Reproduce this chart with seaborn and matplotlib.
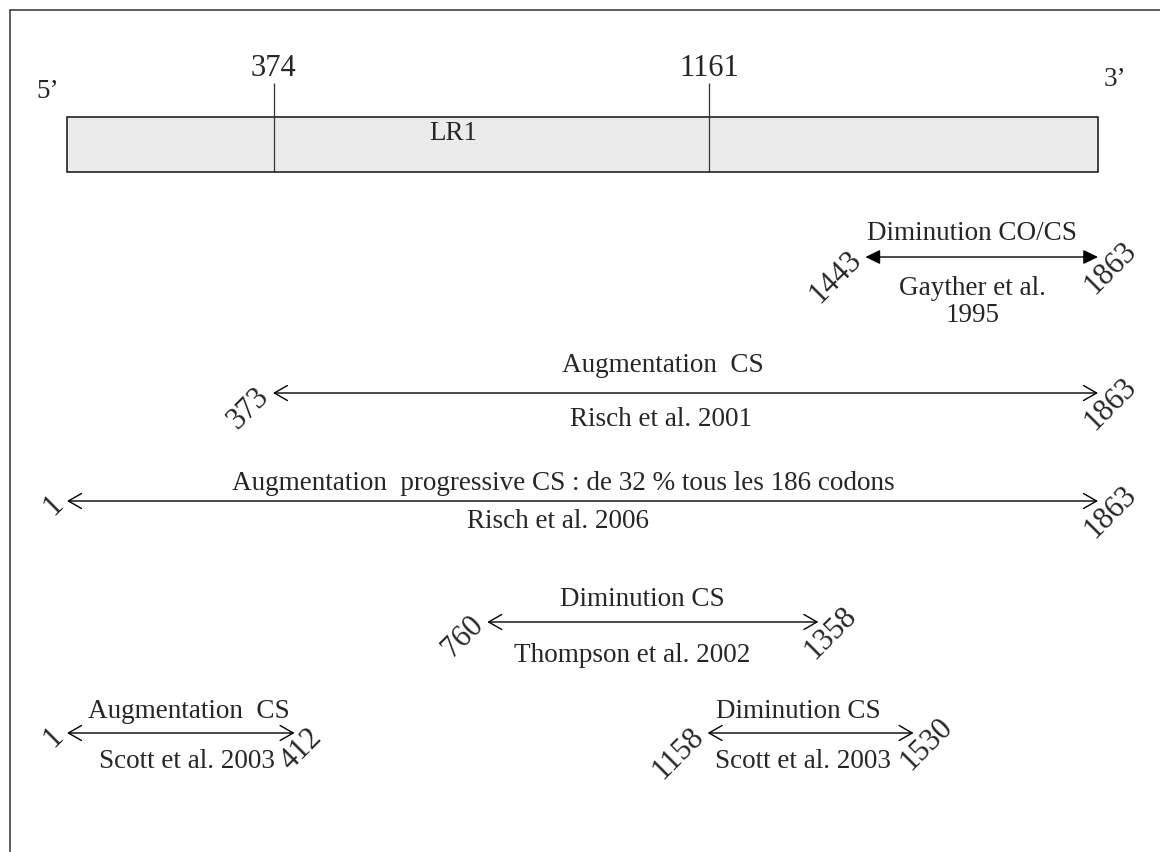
import matplotlib
matplotlib.use("Agg")
import matplotlib.pyplot as plt
import seaborn as sns
from matplotlib.lines import Line2D
from matplotlib.patches import Rectangle

# ---------------- data ----------------
gene_start, gene_end = 1, 1863
domain_label = "LR1"
marker_codons = [374, 1161]
end_labels = ["5’", "3’"]

effects = [
    "Diminution CO/CS",
    "Augmentation  CS",
    "Augmentation  progressive CS : de 32 % tous les 186 codons",
    "Diminution CS",
    "Augmentation  CS",
    "Diminution CS",
]
studies = [
    "Gayther et al.\n1995",
    "Risch et al. 2001",
    "Risch et al. 2006",
    "Thompson et al. 2002",
    "Scott et al. 2003",
    "Scott et al. 2003",
]
starts = [1443, 373, 1, 760, 1, 1158]
ends = [1863, 1863, 1863, 1358, 412, 1530]
filled_heads = [True, False, False, False, False, False]

# ---------------- layout (pixels, top-down) ----------------
W, H = 1160, 852
row_y = [257, 393, 501, 622, 733, 733]
title_y = [233, 366, 484, 600, 712, 712]
caption_y = [302, 419, 522, 655, 762, 762]
title_dx = [-10, -23, -19, -10, 8, -12]
caption_dx = [-9, -24, -24, -21, 6, -8]
FS = 19.5
NFS = 22

sns.set_theme(style="white")
plt.rcParams["font.family"] = ["Liberation Serif", "DejaVu Serif"]

fig = plt.figure(figsize=(11.6, 8.52), dpi=100)
ax = fig.add_axes([0, 0, 1, 1])
ax.set_xlim(-120.0, 1975.0)
ax.set_ylim(H, 0)
ax.axis("off")

# frame (top and left edges)
fig.add_artist(Line2D([10 / W, 10 / W], [0, 1 - 10 / H], color="#333333", lw=1.1))
fig.add_artist(Line2D([10 / W, 1], [1 - 10 / H, 1 - 10 / H], color="#333333", lw=1.1))

# gene bar
ax.add_patch(Rectangle((gene_start, 117), gene_end - gene_start, 55,
                       facecolor="#ebebeb", edgecolor="#111111", lw=1.1, zorder=2))
ax.vlines(marker_codons, 83, 172, color="#333333", lw=0.9, zorder=3)
for c in marker_codons:
    ax.text(c, 68, str(c), fontsize=NFS, ha="center", va="center")
ax.annotate(end_labels[0], xy=(gene_start, 92), xytext=(-19, 0), textcoords="offset pixels",
            fontsize=FS, ha="center", va="center")
ax.annotate(end_labels[1], xy=(gene_end, 80), xytext=(17, 0), textcoords="offset pixels",
            fontsize=FS, ha="center", va="center")
ax.annotate(domain_label, xy=((marker_codons[0] + marker_codons[1]) / 2, 133), xytext=(-38, 0),
            textcoords="offset pixels", fontsize=FS, ha="center", va="center")

# study arrows
for i in range(len(starts)):
    s, e, y = starts[i], ends[i], row_y[i]
    if filled_heads[i]:
        style = "<|-|>,head_length=0.45,head_width=0.22"
    else:
        style = "<->,head_length=0.47,head_width=0.27"
    ax.annotate("", xy=(e, y), xytext=(s, y),
                arrowprops=dict(arrowstyle=style, mutation_scale=20, lw=1.0,
                                color="black", shrinkA=0, shrinkB=0))
    mid = (s + e) / 2
    ax.annotate(effects[i], xy=(mid, title_y[i]), xytext=(title_dx[i], 0),
                textcoords="offset pixels", fontsize=FS, ha="center", va="center")
    ax.annotate(studies[i], xy=(mid, caption_y[i]), xytext=(caption_dx[i], 0),
                textcoords="offset pixels", fontsize=FS, ha="center", va="center",
                linespacing=1.12)
    ax.annotate(str(s), xy=(s, y), xytext=(-8, 1), textcoords="offset pixels",
                fontsize=NFS, rotation=45, rotation_mode="anchor", ha="right", va="center")
    ax.annotate(str(e), xy=(e, y), xytext=(-9, -33), textcoords="offset pixels",
                fontsize=NFS, rotation=45, rotation_mode="anchor", ha="left", va="center")

fig.savefig("out.png", dpi=100, facecolor="white")
